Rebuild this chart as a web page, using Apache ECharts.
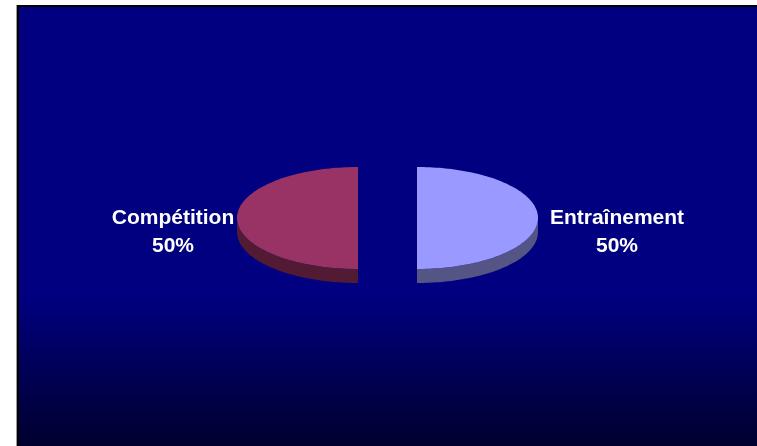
<!DOCTYPE html>
<html>
<head>
<meta charset="utf-8">
<script src="https://cdn.jsdelivr.net/npm/echarts@6/dist/echarts.min.js"></script>
<style>html,body{margin:0;padding:0;background:#fff}#c{width:757px;height:446px}</style>
</head>
<body>
<div id="c"></div>
<script>
var categories = ['Entraînement', 'Compétition'];
var values = [50, 50];
var percentLabels = ['50%', '50%'];
var colors = ['#9999FF', '#993366'];
var sideColors = ['#545485', '#521A33'];

var chart = echarts.init(document.getElementById('c'), null, {renderer: 'canvas'});
var total = values.reduce(function (a, b) { return a + b; }, 0);
var CX = 387.5, CY = 218, RX = 121, RY = 51, DEPTH = 14, EXPLODE = 29.5;
var labelDist = [200, 185];

function pt(cx, cy, a) { return [cx + RX * Math.cos(a), cy + RY * Math.sin(a)]; }

function renderItem(params, api) {
  var i = params.dataIndex;
  var before = 0;
  for (var k = 0; k < i; k++) before += values[k];
  var start = -Math.PI / 2 + before / total * 2 * Math.PI;
  var end = start + api.value(0) / total * 2 * Math.PI;
  var mid = (start + end) / 2;
  var cx = CX + EXPLODE * Math.cos(mid);
  var cy = CY + EXPLODE * Math.sin(mid) * RY / RX;
  var children = [];
  // visible outer wall: angles in [0, PI]
  var ranges = [[start, end], [start + 2 * Math.PI, end + 2 * Math.PI], [start - 2 * Math.PI, end - 2 * Math.PI]];
  ranges.forEach(function (r) {
    var a0 = Math.max(r[0], 0), a1 = Math.min(r[1], Math.PI);
    if (a1 > a0) {
      var pts = [], n = 60, j;
      for (j = 0; j <= n; j++) pts.push(pt(cx, cy, a0 + (a1 - a0) * j / n));
      for (j = n; j >= 0; j--) { var p = pt(cx, cy, a0 + (a1 - a0) * j / n); pts.push([p[0], p[1] + DEPTH]); }
      children.push({type: 'polygon', shape: {points: pts}, style: {fill: sideColors[i], stroke: null}});
    }
  });
  var top = [[cx, cy]];
  for (var j = 0; j <= 120; j++) top.push(pt(cx, cy, start + (end - start) * j / 120));
  children.push({type: 'polygon', shape: {points: top}, style: {fill: colors[i], stroke: null}});
  var lx = cx + labelDist[i] * Math.cos(mid);
  var ly = cy + 14 + labelDist[i] * Math.sin(mid) * RY / RX;
  children.push({type: 'text', style: {
    text: categories[i] + '\n' + percentLabels[i], x: lx, y: ly,
    fill: '#ffffff', font: 'bold 21px "Liberation Sans", Arial, sans-serif',
    align: 'center', verticalAlign: 'middle', lineHeight: 28
  }});
  return {type: 'group', children: children};
}

chart.setOption({
  backgroundColor: '#ffffff',
  animation: false,
  graphic: [
    {type: 'rect', z: 0, shape: {x: 16, y: 5, width: 1, height: 441}, style: {fill: '#9a9a9a'}},
    {type: 'rect', z: 0, shape: {x: 17, y: 5, width: 740, height: 441}, style: {fill: '#000000'}},
    {type: 'rect', z: 0, shape: {x: 19, y: 7, width: 738, height: 439}, style: {
      fill: new echarts.graphic.LinearGradient(0, 0, 0, 1, [
        {offset: 0, color: '#000080'}, {offset: 0.66, color: '#000080'}, {offset: 1, color: '#00002e'}
      ])
    }}
  ],
  series: [{
    type: 'custom',
    coordinateSystem: 'none',
    z: 10,
    renderItem: renderItem,
    data: values.map(function (v, i) { return [v, i]; })
  }]
});
</script>
</body>
</html>
